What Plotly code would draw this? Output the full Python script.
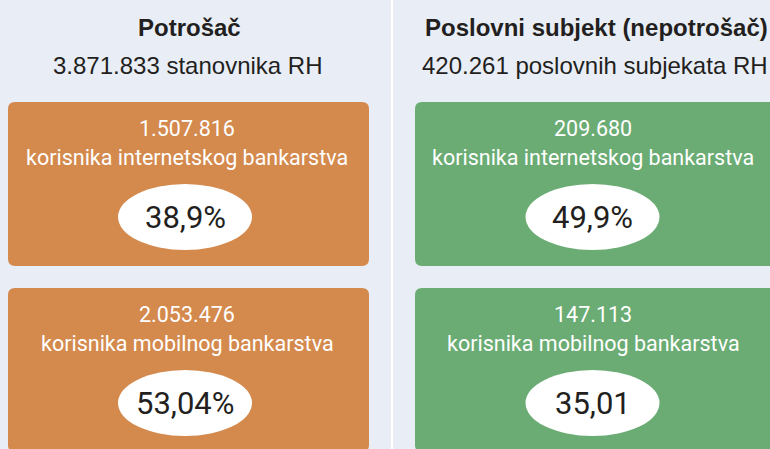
import plotly.graph_objects as go

# ---- data ----
sections = ["Potrošač", "Poslovni subjekt (nepotrošač)"]
population = ["3.871.833 stanovnika RH", "420.261 poslovnih subjekata RH"]
channel_labels = ["korisnika internetskog bankarstva", "korisnika mobilnog bankarstva"]
internet_users = ["1.507.816", "209.680"]
mobile_users = ["2.053.476", "147.113"]
internet_share = ["38,9%", "49,9%"]
mobile_share = ["53,04%", "35,01"]

# ---- styling ----
W, H = 770, 449
BG = "#E9EEF6"
box_colors = ["#D4894D", "#6AAC73"]
dark = "#231F20"
col_box_x = [(8, 369), (415, 785)]
col_head_x = [189, 596]
col_text_x = [187, 593]
col_ell_x = [185, 592.5]
row_top = [102, 288]
box_h = 164
ell_w, ell_h = 134, 66

HEAD_FONT = "Liberation Sans, Arial, Helvetica, sans-serif"
COND_FONT = "Roboto, sans-serif"


def rrect(x0, y0, x1, y1, r):
    return (f"M {x0+r},{y0} L {x1-r},{y0} Q {x1},{y0} {x1},{y0+r} "
            f"L {x1},{y1-r} Q {x1},{y1} {x1-r},{y1} L {x0+r},{y1} "
            f"Q {x0},{y1} {x0},{y1-r} L {x0},{y0+r} Q {x0},{y0} {x0+r},{y0} Z")


fig = go.Figure()
shapes = []
annotations = []

# divider
shapes.append(dict(type="rect", x0=391, x1=393, y0=-5, y1=H + 5,
                   fillcolor="white", line=dict(width=0), layer="below"))

rows = [(internet_users, internet_share), (mobile_users, mobile_share)]
for c in range(2):
    annotations.append(dict(x=col_head_x[c], y=27, text=f"<b>{sections[c]}</b>",
                            showarrow=False, xanchor="center", yanchor="middle",
                            font=dict(family=HEAD_FONT, size=24, color=dark)))
    annotations.append(dict(x=col_head_x[c] - 1, y=65, text=population[c],
                            showarrow=False, xanchor="center", yanchor="middle",
                            font=dict(family=HEAD_FONT, size=24, color=dark)))
    for r in range(2):
        users, share = rows[r]
        y0 = row_top[r]
        x0, x1 = col_box_x[c]
        shapes.append(dict(type="path", path=rrect(x0, y0, x1, y0 + box_h, 7),
                           fillcolor=box_colors[c], line=dict(width=0), layer="below"))
        cy = y0 + 115
        shapes.append(dict(type="circle", x0=col_ell_x[c] - ell_w / 2, x1=col_ell_x[c] + ell_w / 2,
                           y0=cy - ell_h / 2, y1=cy + ell_h / 2,
                           fillcolor="white", line=dict(width=0), layer="below"))
        annotations.append(dict(x=col_text_x[c], y=y0 + 26, text=users[c],
                                showarrow=False, xanchor="center", yanchor="middle",
                                font=dict(family=COND_FONT, size=21.5, color="white")))
        annotations.append(dict(x=col_text_x[c], y=y0 + 55, text=channel_labels[r],
                                showarrow=False, xanchor="center", yanchor="middle",
                                font=dict(family=COND_FONT, size=21.5, color="white")))
        annotations.append(dict(x=col_ell_x[c], y=cy, text=share[c],
                                showarrow=False, xanchor="center", yanchor="middle",
                                font=dict(family=COND_FONT, size=31, color=dark)))

fig.update_layout(
    width=W, height=H,
    margin=dict(l=0, r=0, t=0, b=0),
    paper_bgcolor=BG, plot_bgcolor=BG,
    xaxis=dict(range=[0, W], visible=False, fixedrange=True),
    yaxis=dict(range=[H, 0], visible=False, fixedrange=True),
    shapes=shapes, annotations=annotations,
    showlegend=False,
)

fig.write_html(
    "out.html",
    config={"displayModeBar": False},
    post_script="document.body.style.margin='0';document.body.style.background='#E9EEF6';",
)
